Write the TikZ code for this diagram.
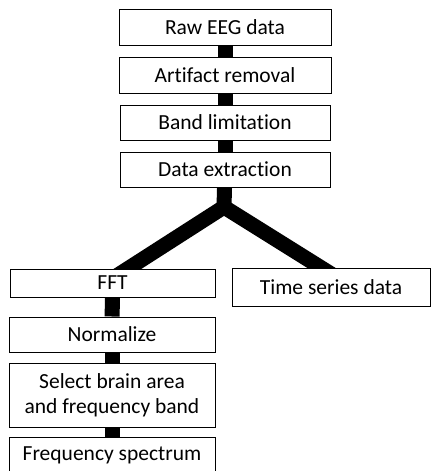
\documentclass[tikz,border=0pt]{standalone}
\usepackage{fontspec}
\setmainfont[RawFeature={-liga}]{Carlito}
\usepackage{tikz}
\usetikzlibrary{backgrounds}

\begin{document}
\begin{tikzpicture}[x=1pt, y=-1pt, line width=1pt,
    stepbox/.style={draw=black, fill=white, align=center, inner sep=0pt,
        font=\fontsize{21.5}{25}\selectfont},
    link/.style={line width=15pt, black}]
    \useasboundingbox (0, 0) rectangle (432, 471);

    % draw upper chain
    \node[stepbox, minimum width=212pt, minimum height=36pt] (raw) at (225, 27) {Raw EEG data};
    \node[stepbox, minimum width=212pt, minimum height=36pt] (art) at (225, 75) {Artifact removal};
    \node[stepbox, minimum width=210pt, minimum height=35pt] (band) at (225, 122.5) {Band limitation};
    \node[stepbox, minimum width=210pt, minimum height=35pt] (ext) at (225, 169.5) {Data extraction};

    % draw branches
    \node[stepbox, minimum width=205pt, minimum height=28pt] (fft) at (112.5, 283) {FFT};
    \node[stepbox, minimum width=198pt, minimum height=38pt] (ts) at (331, 287) {Time series data};

    % draw lower chain
    \node[stepbox, minimum width=206pt, minimum height=35pt] (norm) at (112, 334.5) {Normalize};
    \node[stepbox, minimum width=206pt, minimum height=64pt] (sel) at (112, 395) {Select brain area\\and frequency band};
    \node[stepbox, minimum width=206pt, minimum height=36pt] (freq) at (112, 455) {Frequency spectrum};

    % draw connectors behind the boxes
    \begin{scope}[on background layer]
        \draw[link] (raw) -- (art);
        \draw[link] (art) -- (band);
        \draw[link] (band) -- (ext);

        \coordinate (fork) at (224, 207);
        \draw[link] (ext) -- (fork);
        \draw[link, line join=miter] ([xshift=-7pt]fft.center) -- (fork) -- ([xshift=21pt]ts.center);

        \draw[link] (fft) -- (norm);
        \draw[link] (norm) -- (sel);
        \draw[link] (sel) -- (freq);
    \end{scope}
\end{tikzpicture}
\end{document}
